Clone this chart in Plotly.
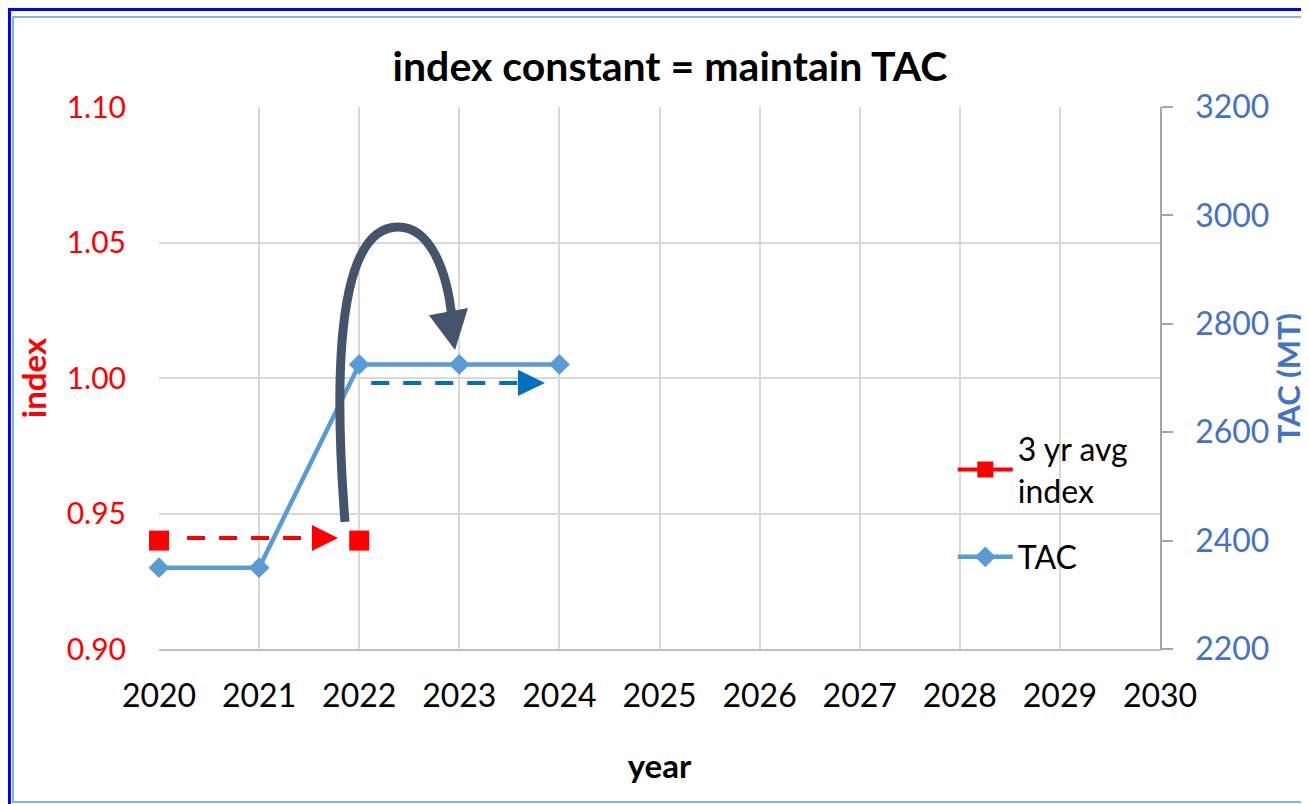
import plotly.graph_objects as go

# --- data ---
avg_years = [2020, 2021, 2022]
avg_index = [0.94, None, 0.94]
tac_years = [2020, 2021, 2022, 2023, 2024]
tac_values = [2350, 2350, 2725, 2725, 2725]
x_ticks = list(range(2020, 2031))

FONT = "Lato, Open Sans, sans-serif"
RED = "#FF0000"
AXIS_BLUE = "#4472C4"
TAC_BLUE = "#5B9BD5"
ARROW_BLUE = "#0070C0"
SLATE = "#44546A"
GRID = "#D9D9D9"

fig = go.Figure()
fig.add_trace(go.Scatter(
    x=avg_years, y=avg_index, name="3 yr avg<br>index", mode="lines+markers",
    connectgaps=False, cliponaxis=False, legendgroup="avg",
    marker=dict(symbol="square", size=20, color=RED),
    line=dict(color=RED, width=4), yaxis="y",
))
fig.add_trace(go.Scatter(
    x=tac_years, y=tac_values, name="TAC", mode="lines+markers",
    cliponaxis=False, legendgroup="tac",
    marker=dict(symbol="diamond", size=16, color=TAC_BLUE),
    line=dict(color=TAC_BLUE, width=4.5), yaxis="y2",
))

shapes = []
# red dashed arrow (index carried forward)
shapes.append(dict(type="line", xref="x", yref="y", x0=2020.28, x1=2021.55, y0=0.941, y1=0.941,
                   line=dict(color=RED, width=4, dash="18px,14px")))
shapes.append(dict(type="path", xref="x", yref="y",
                   path="M 2021.528 0.9458 L 2021.788 0.941 L 2021.528 0.9362 Z",
                   fillcolor=RED, line=dict(color=RED, width=0)))
# blue dashed arrow (TAC carried forward)
shapes.append(dict(type="line", xref="x", yref="y", x0=2022.12, x1=2023.6, y0=0.9982, y1=0.9982,
                   line=dict(color=ARROW_BLUE, width=4, dash="18px,14px")))
shapes.append(dict(type="path", xref="x", yref="y",
                   path="M 2023.586 1.003 L 2023.856 0.9982 L 2023.586 0.9934 Z",
                   fillcolor=ARROW_BLUE, line=dict(color=ARROW_BLUE, width=0)))
# curved arrow
shapes.append(dict(type="path", xref="x", yref="y",
                   path=("M 2021.858 0.9469 C 2021.688 1.0288 2021.958 1.0557 2022.388 1.0557 "
                         "C 2022.707 1.0557 2022.877 1.0399 2022.927 1.0221"),
                   line=dict(color=SLATE, width=9)))
shapes.append(dict(type="path", xref="x", yref="y",
                   path="M 2022.697 1.0232 L 2023.087 1.0258 L 2022.957 1.0103 Z",
                   fillcolor=SLATE, line=dict(color=SLATE, width=0)))
# frame lines
shapes.append(dict(type="rect", xref="paper", yref="paper", x0=-0.1459, x1=1.2, y0=-0.2823, y1=1.1661,
                   line=dict(color=TAC_BLUE, width=1.5), layer="below"))
shapes.append(dict(type="line", xref="paper", yref="paper", x0=-0.16, x1=1.2, y0=1.1799, y1=1.1799,
                   line=dict(color="#0000FF", width=3)))
shapes.append(dict(type="line", xref="paper", yref="paper", x0=-0.1494, x1=-0.1494, y0=-0.3, y1=1.19,
                   line=dict(color="#0000FF", width=3)))

fig.update_layout(
    width=1309, height=804,
    margin=dict(l=151, r=157, t=99, b=163, autoexpand=False),
    paper_bgcolor="white", plot_bgcolor="white",
    font=dict(family=FONT, size=32, color="black"),
    title=dict(text="<b>index constant = maintain TAC</b>", x=662 / 1309, xref="container",
               xanchor="center", y=1 - 59 / 804, yanchor="middle", font=dict(size=41)),
    xaxis=dict(range=[2020, 2030], tickvals=x_ticks, showgrid=True, gridcolor=GRID, gridwidth=1.5,
               zeroline=False, showline=True, linecolor="#BFBFBF", linewidth=1.5, ticks="",
               ticklabelstandoff=18, automargin=False,
               title=dict(text="<b>year</b>", standoff=42, font=dict(size=33))),
    yaxis=dict(range=[0.90, 1.10], dtick=0.05, tickformat=".2f", showgrid=True, gridcolor=GRID,
               gridwidth=1.5, zeroline=False, showline=False, ticks="", ticklabelstandoff=32,
               automargin=False, tickfont=dict(color=RED, size=30),
               title=dict(text="<b>index</b>", standoff=10, font=dict(color=RED, size=33))),
    yaxis2=dict(range=[2200, 3200], dtick=200, overlaying="y", side="right", showgrid=False,
                zeroline=False, showline=True, linecolor="#A6A6A6", linewidth=1.5, ticks="outside",
                ticklen=11, tickcolor="#A6A6A6", tickwidth=1.5, ticklabelstandoff=16,
                automargin=False, tickfont=dict(color=AXIS_BLUE),
                title=dict(text="<b>TAC (MT)</b>", standoff=8, font=dict(color=AXIS_BLUE, size=31))),
    legend=dict(x=0.793, y=0.42, xanchor="left", yanchor="top", bgcolor="rgba(0,0,0,0)",
                font=dict(size=32), traceorder="grouped", tracegroupgap=22, itemwidth=55),
    showlegend=True,
    shapes=shapes,
)

fig.write_html("out.html")
